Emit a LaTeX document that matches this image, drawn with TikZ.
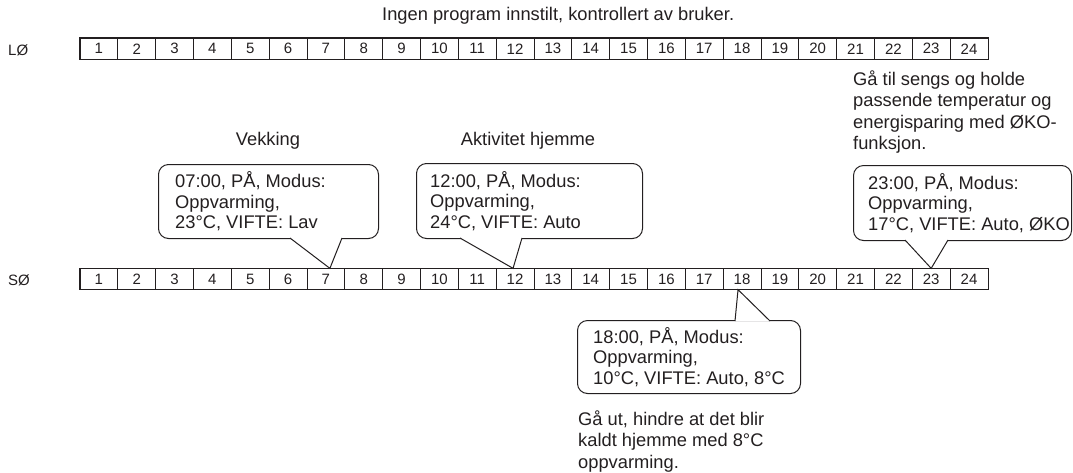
\documentclass[tikz,border=0pt]{standalone}
\usepackage{fontspec}
\setmainfont{Liberation Sans}
\definecolor{ink}{RGB}{35,31,32}

\begin{document}
\begin{tikzpicture}[x=1pt,y=-1pt,color=ink,
  hourcell/.style={draw,line width=.8pt,minimum width=37.83pt,minimum height=20.5pt,
    inner sep=0pt,font=\fontsize{15}{15}\selectfont},
  rowlabel/.style={anchor=west,inner sep=0pt,font=\fontsize{15}{15}\selectfont},
  notetext/.style={inner sep=0pt,align=left,font=\fontsize{18.3}{21.3}\selectfont},
  calltext/.style={inner sep=0pt,align=left,anchor=west,font=\fontsize{18.3}{20.5}\selectfont},
  bubble/.style={draw,line width=1pt,rounded corners=10pt,fill=white,anchor=north west,inner sep=0pt},
  bubbletail/.style={draw,line width=1pt,fill=white,line join=miter}]
  \useasboundingbox (0,0) rectangle (1073,472);

  \node[notetext,anchor=west] (title) at (382,16) {Ingen program innstilt, kontrollert av bruker.};

  \node[rowlabel] (lo) at (8,50) {LØ};
  \node[rowlabel] (so) at (8,280) {SØ};
  \foreach \i in {1,...,24} {
    \node[hourcell] (lo\i) at ({61.085+37.83*\i},48.8) {\i};
    \node[hourcell] (so\i) at ({61.085+37.83*\i},279) {\i};
  }
  \draw[line width=1.6pt] (lo1.north west) rectangle (lo24.south east);
  \draw[line width=1.6pt] (so1.north west) rectangle (so24.south east);

  \node[notetext] (wake) at (268,141) {Vekking};
  \node[notetext] (home) at (528,141) {Aktivitet hjemme};
  \node[notetext,anchor=north west] (sleep) at (853,70.7)
    {Gå til sengs og holde\\passende temperatur og\\energisparing med ØKO-\\funksjon.};
  \node[notetext,anchor=north west] (away) at (578,410.7)
    {Gå ut, hindre at det blir\\kaldt hjemme med 8°C\\oppvarming.};

  \node[bubble,minimum width=220pt,minimum height=74pt] (b07) at (158,164) {};
  \node[calltext] (t07) at ([xshift=17pt]b07.west) {07:00, PÅ, Modus:\\Oppvarming,\\23°C, VIFTE: Lav};
  \draw[bubbletail] ([xshift=132pt,yshift=1pt]b07.south west) -- ([xshift=4pt]so7.north)
    -- ([xshift=184pt,yshift=1pt]b07.south west);

  \node[bubble,minimum width=226pt,minimum height=75pt] (b12) at (416,163) {};
  \node[calltext] (t12) at ([xshift=14pt]b12.west) {12:00, PÅ, Modus:\\Oppvarming,\\24°C, VIFTE: Auto};
  \draw[bubbletail] ([xshift=44pt,yshift=1pt]b12.south west) -- ([xshift=-2pt]so12.north)
    -- ([xshift=106pt,yshift=1pt]b12.south west);

  \node[bubble,minimum width=223pt,minimum height=73pt] (b18) at (577,320) {};
  \node[calltext] (t18) at ([xshift=16pt]b18.west) {18:00, PÅ, Modus:\\Oppvarming,\\10°C, VIFTE: Auto, 8°C};
  \draw[bubbletail] ([xshift=158pt,yshift=-1pt]b18.north west) -- ([xshift=-4pt]so18.south)
    -- ([xshift=193pt,yshift=-1pt]b18.north west);

  \node[bubble,minimum width=218pt,minimum height=75pt] (b23) at (853,165) {};
  \node[calltext] (t23) at ([xshift=15pt]b23.west) {23:00, PÅ, Modus:\\Oppvarming,\\17°C, VIFTE: Auto, ØKO};
  \draw[bubbletail] ([xshift=52pt,yshift=1pt]b23.south west) -- (so23.north)
    -- ([xshift=95pt,yshift=1pt]b23.south west);
\end{tikzpicture}
\end{document}
